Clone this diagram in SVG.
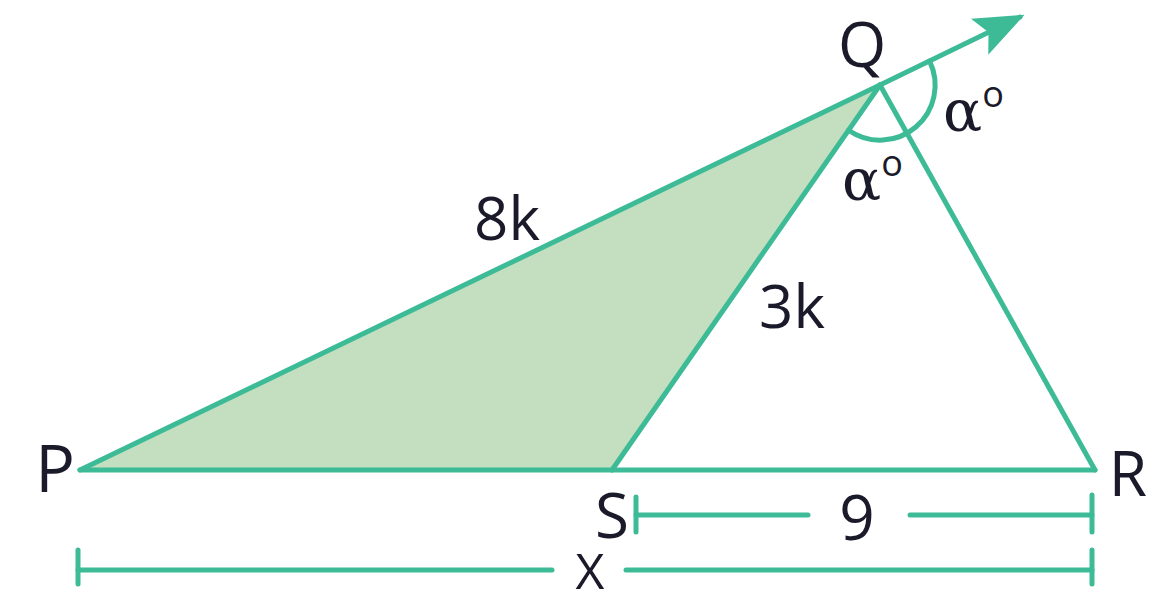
<svg xmlns="http://www.w3.org/2000/svg" width="1176" height="601" viewBox="0 0 1176 601">
<style>
.ln{stroke:#3dbb97;stroke-width:5;fill:none;stroke-linecap:round;stroke-linejoin:round}
.t{font-family:"Open Sans","Noto Sans",sans-serif;fill:#1a1a2a;text-anchor:middle}
.al{font-family:"DejaVu Serif","Liberation Serif",serif;fill:#1a1a2a;font-size:58px}
.sup{font-family:"Open Sans","Noto Sans",sans-serif;font-size:36px}
</style>
<defs>
<marker id="ah2" viewBox="0 0 10 10" refX="9" refY="5" markerWidth="50" markerHeight="40" markerUnits="userSpaceOnUse" orient="auto" preserveAspectRatio="none">
<path d="M0,0 L10,5 L0,10 L2,5 Z" fill="#3dbb97"/>
</marker>
</defs>
<g id="shaded">
<polygon points="80,470 880,85 612,470" fill="#c3dfc0"/>
</g>
<g id="connectors">
<line class="ln" x1="80" y1="470" x2="880" y2="85"/>
<line class="ln" x1="880" y1="85" x2="1020" y2="17" marker-end="url(#ah2)"/>
<line class="ln" x1="80" y1="470" x2="1095" y2="470"/>
<line class="ln" x1="880" y1="85" x2="612" y2="470"/>
<line class="ln" x1="880" y1="85" x2="1095" y2="470"/>
<path class="ln" d="M929.6,61.1 A55,55 0 0 1 848.6,130.2"/>
<g id="dim9">
<line class="ln" x1="636" y1="515" x2="808" y2="515"/>
<line class="ln" x1="910" y1="515" x2="1092" y2="515"/>
<line class="ln" x1="636" y1="497" x2="636" y2="532"/>
<line class="ln" x1="1092" y1="495" x2="1092" y2="532"/>
</g>
<g id="dimX">
<line class="ln" x1="78" y1="570" x2="552" y2="570"/>
<line class="ln" x1="626" y1="570" x2="1092" y2="570"/>
<line class="ln" x1="78" y1="550" x2="78" y2="584"/>
<line class="ln" x1="1092" y1="550" x2="1092" y2="584"/>
</g>
</g>
<g id="P"><text class="t" x="55" y="492" font-size="66">P</text></g>
<g id="Q"><text class="t" x="862" y="67" font-size="62">Q</text></g>
<g id="R"><text class="t" x="1128" y="496" font-size="62">R</text></g>
<g id="S"><text class="t" x="612" y="538" font-size="62">S</text></g>
<g id="l8k"><text class="t" x="507" y="240" font-size="60">8k</text></g>
<g id="l3k"><text class="t" x="792" y="328" font-size="60">3k</text></g>
<g id="a1"><text class="al" x="842" y="200">α<tspan class="sup" dy="-24">o</tspan></text></g>
<g id="a2"><text class="al" x="943" y="131">α<tspan class="sup" dy="-24">o</tspan></text></g>
<g id="l9"><text class="t" x="857" y="540" font-size="62">9</text></g>
<g id="lX"><text class="t" x="590" y="589" font-size="50">X</text></g>
</svg>
